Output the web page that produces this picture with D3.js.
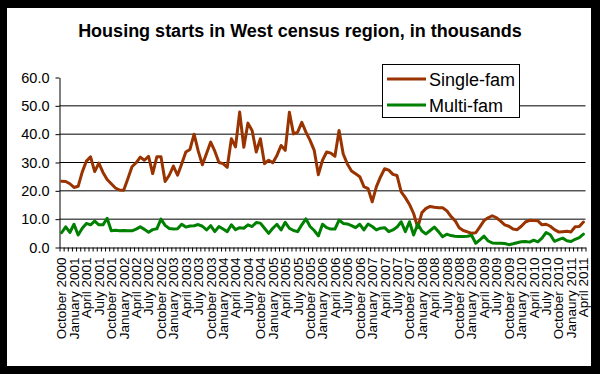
<!DOCTYPE html>
<html>
<head>
<meta charset="utf-8">
<script src="https://cdn.jsdelivr.net/npm/d3@7"></script>
<style>
  body { margin: 0; background: #000; }
  text { font-family: Arial, "Liberation Sans", sans-serif; fill: #000; }
</style>
</head>
<body>
<div id="chart"></div>
<script>
// monthly housing starts, West region, Oct 2000 .. Apr 2011 (thousands)
var singleFam = [
  23.4, 23.3, 22.5, 21.2, 21.6, 26.7, 30.5, 32.0, 26.8, 29.8,
  26.5, 24.0, 22.5, 21.0, 20.3, 20.2, 24.3, 28.5, 29.9, 31.9,
  30.8, 32.2, 26.1, 32.0, 32.0, 23.3, 25.5, 28.7, 25.5, 29.5,
  33.7, 34.6, 40.0, 34.0, 29.2, 33.2, 37.2, 34.0, 30.0, 29.6,
  28.3, 38.4, 35.5, 47.8, 35.4, 43.9, 41.3, 33.7, 38.4, 29.6,
  30.8, 29.9, 32.5, 36.0, 34.3, 47.7, 40.1, 40.7, 44.2, 40.7,
  37.8, 34.3, 25.7, 30.8, 33.7, 33.3, 32.2, 41.3, 33.0, 29.5,
  27.0, 26.0, 25.0, 21.5, 20.8, 16.1, 21.4, 24.9, 27.8, 27.3,
  25.8, 25.4, 19.6, 17.6, 15.2, 12.0, 7.0, 12.3, 13.8, 14.5,
  14.2, 14.0, 14.0, 13.0, 11.0, 9.5, 7.0, 6.0, 5.5, 5.0,
  5.2, 7.3, 9.5, 10.5, 11.2, 10.5, 9.3, 8.0, 7.5, 6.5,
  6.3, 7.5, 9.0, 9.6, 9.5, 9.4, 8.0, 8.2, 7.5, 6.3,
  5.5, 5.6, 5.7, 5.5, 7.3, 7.4, 9.0
];
var multiFam = [
  5.2, 7.3, 5.3, 8.2, 4.4, 6.8, 8.5, 8.0, 9.3, 8.0,
  8.0, 10.3, 5.9, 6.1, 5.9, 6.0, 5.9, 5.9, 6.5, 7.3,
  6.4, 5.4, 6.3, 6.6, 10.0, 7.8, 6.7, 6.5, 6.6, 8.2,
  7.2, 7.6, 7.7, 8.1, 7.5, 6.2, 7.7, 5.6, 7.4, 6.5,
  5.6, 8.0, 6.3, 7.0, 6.8, 8.0, 7.4, 8.8, 8.6, 6.8,
  5.0, 6.8, 8.2, 6.2, 8.9, 6.8, 6.0, 5.6, 8.0, 10.1,
  7.4, 6.0, 4.1, 8.2, 7.0, 6.5, 6.5, 9.7, 8.5, 8.3,
  7.7, 7.0, 8.2, 6.2, 8.3, 7.4, 6.2, 6.8, 7.0, 5.6,
  6.2, 7.2, 9.1, 5.6, 9.1, 4.4, 8.3, 5.8, 4.8, 6.0,
  7.2, 5.6, 3.8, 4.7, 4.2, 4.0, 3.9, 3.9, 4.0, 4.3,
  1.5, 2.7, 4.0, 2.3, 1.6, 1.5, 1.5, 1.4, 1.0, 1.3,
  1.7, 2.0, 2.1, 1.9, 2.6, 2.0, 3.3, 5.3, 4.5, 2.2,
  2.8, 3.3, 2.4, 2.1, 2.9, 3.5, 4.7
];
// one label every 3rd month (the "Janaury" spelling is in the original)
var tickLabels = [
  "October 2000", "January 2001", "April 2001", "July 2001",
  "October 2001", "January 2002", "April 2002", "July 2002",
  "October 2002", "January 2003", "April 2003", "July 2003",
  "October 2003", "January 2004", "April 2004", "July 2004",
  "October 2004", "January 2005", "April 2005", "July 2005",
  "October 2005", "January 2006", "April 2006", "July 2006",
  "October 2006", "January 2007", "April 2007", "July 2007",
  "October 2007", "January 2008", "April 2008", "July 2008",
  "October 2008", "January 2009", "April 2009", "July 2009",
  "October 2009", "January 2010", "April 2010", "July 2010",
  "October 2010", "Janaury 2011", "April 2011"
];
var yTicks = [0, 10, 20, 30, 40, 50, 60];
var seriesNames = ["Single-fam", "Multi-fam"];
var seriesColors = ["#993300", "#008000"];

var W = 600, H = 374;
var svg = d3.select("#chart").append("svg")
    .attr("width", W).attr("height", H);

svg.append("rect").attr("width", W).attr("height", H).attr("fill", "#000");
svg.append("rect").attr("x", 7).attr("y", 8)
    .attr("width", 584).attr("height", 358).attr("fill", "#fff");

var n = singleFam.length;
var x = d3.scaleLinear().domain([-0.5, n - 0.5]).range([59.5, 585.5]);
var y = d3.scaleLinear().domain([0, 60]).range([247.5, 77.5]);

// title
svg.append("text")
    .attr("x", 300).attr("y", 37)
    .attr("text-anchor", "middle")
    .style("font-size", "18px").style("font-weight", "bold")
    .text("Housing starts in West census region, in thousands");

// gridlines
svg.append("g").selectAll("line")
    .data(yTicks.filter(function (d) { return d > 0 && d < 60; }))
    .enter().append("line")
    .attr("x1", x(-0.5)).attr("x2", x(n - 0.5))
    .attr("y1", function (d) { return y(d); })
    .attr("y2", function (d) { return y(d); })
    .attr("stroke", "#000").attr("stroke-width", 1);

// y axis
var yAxis = svg.append("g")
    .attr("transform", "translate(" + x(-0.5) + ",0)")
    .call(d3.axisLeft(y).tickValues(yTicks).tickSize(4).tickSizeOuter(0)
        .tickPadding(6).tickFormat(d3.format(".1f")));
yAxis.selectAll("text").style("font-size", "14.5px").attr("font-family", null);
yAxis.selectAll("line, path").attr("stroke", "#000");

// x axis: a small tick between every month
var xAxis = svg.append("g")
    .attr("transform", "translate(0," + y(0) + ")")
    .call(d3.axisBottom(x).tickValues(d3.range(-0.5, n, 1))
        .tickSize(4).tickSizeOuter(0).tickFormat(""));
xAxis.selectAll("line, path").attr("stroke", "#000");

svg.append("g").selectAll("text")
    .data(tickLabels)
    .enter().append("text")
    .attr("transform", function (d, i) {
        return "translate(" + x(i * 3) + "," + (y(0) + 10) + ") rotate(-90)";
    })
    .attr("text-anchor", "end")
    .attr("dy", "0.36em")
    .style("font-size", "13.5px")
    .text(function (d) { return d; });

// lines
var line = d3.line()
    .x(function (d, i) { return x(i); })
    .y(function (d) { return y(d); });

[singleFam, multiFam].forEach(function (s, k) {
    svg.append("path")
        .datum(s)
        .attr("d", line)
        .attr("fill", "none")
        .attr("stroke", seriesColors[k])
        .attr("stroke-width", 3)
        .attr("stroke-linejoin", "round")
        .attr("stroke-linecap", "round");
});

// legend
var legend = svg.append("g");
legend.append("rect")
    .attr("x", 382.5).attr("y", 64.5)
    .attr("width", 137).attr("height", 53)
    .attr("fill", "#fff").attr("stroke", "#000");
seriesNames.forEach(function (name, k) {
    var ly = 79 + k * 26;
    legend.append("line")
        .attr("x1", 387).attr("x2", 426)
        .attr("y1", ly).attr("y2", ly)
        .attr("stroke", seriesColors[k]).attr("stroke-width", 3);
    legend.append("text")
        .attr("x", 429).attr("y", ly + 7)
        .style("font-size", "18px")
        .text(name);
});
</script>
</body>
</html>
